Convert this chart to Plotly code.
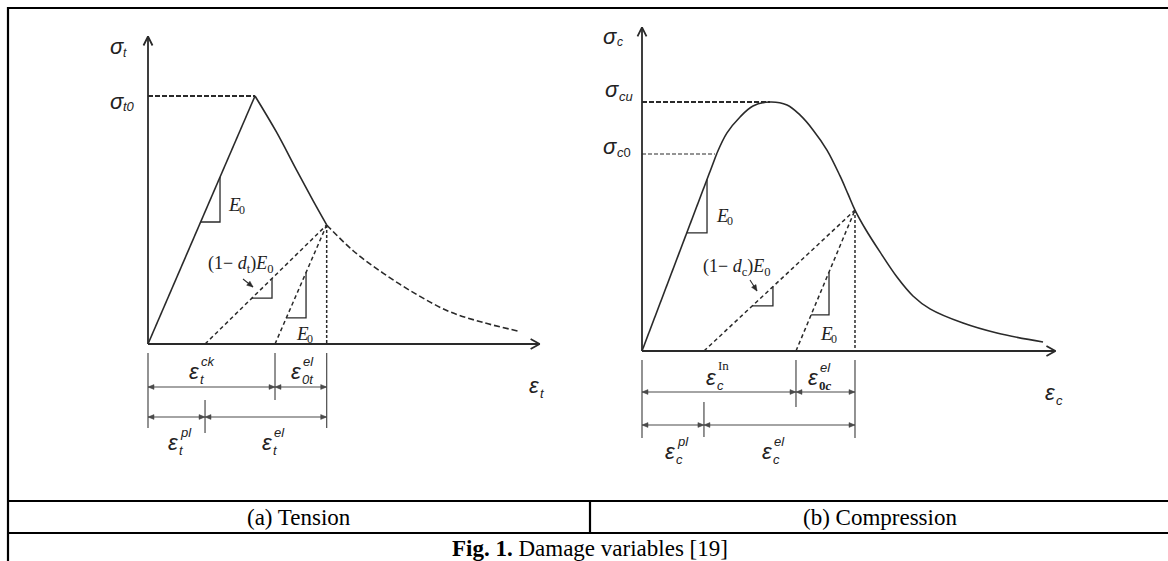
import plotly.graph_objects as go

W, H = 1168, 561

# ---------------- data (normalised schematic units) ----------------
# (a) Tension: strain / eps_t0, stress / sigma_t0
t_load_strain = [0.0, 1.0]
t_load_stress = [0.0, 1.0]
t_soft_strain = [1.0, 1.2, 1.39, 1.54, 1.67]
t_soft_stress = [1.0, 0.855, 0.70, 0.58, 0.48]
t_tail_strain = [1.67, 1.92, 2.20, 2.51, 2.82, 3.13, 3.46]
t_tail_stress = [0.48, 0.375, 0.285, 0.20, 0.13, 0.087, 0.052]
t_unload_zero = [0.533, 1.187]          # intercepts of (1-dt)E0 and E0 unloading
t_axis_end = [3.66, 1.24]               # x-axis length, y-axis length

# (b) Compression: strain / eps_cu, stress / sigma_cu
c_load_strain = [0.0, 0.586]
c_load_stress = [0.0, 0.795]
c_curve_strain = [0.586, 0.664, 0.766, 0.867, 1.0, 1.133, 1.234, 1.336, 1.445, 1.547,
                  1.609, 1.664, 1.75, 1.859, 1.992, 2.117, 2.25, 2.508, 2.773, 3.133]
c_curve_stress = [0.795, 0.876, 0.940, 0.984, 1.0, 0.988, 0.948, 0.888, 0.807, 0.703,
                  0.631, 0.566, 0.486, 0.398, 0.297, 0.221, 0.169, 0.112, 0.072, 0.036]
c_sigma_c0 = [0.57, 0.791]              # strain, stress at sigma_c0
c_point = [1.664, 0.566]                # unloading point
c_unload_zero = [0.484, 1.203]
c_axis_end = [3.23, 1.30]

t_point = [t_soft_strain[-1], t_soft_stress[-1]]

# ---------------- layout helpers ----------------
panels = {
    "t": dict(ox=148, oy=344, sx=107, sy=248, xa="x", ya="y"),
    "c": dict(ox=642, oy=351, sx=128, sy=249, xa="x2", ya="y2"),
}
LINE = "#2a2a2a"
DIM = "#4a4a4a"
SANS = "Liberation Sans"
SERIF = "Liberation Serif"

fig = go.Figure()
annotations = []
shapes = []


def dx(p, pix):
    return pix / panels[p]["sx"]


def dy(p, pix):
    return pix / panels[p]["sy"]


def line(p, xs, ys, width=1.6, dash="solid", color=LINE, shape="linear"):
    fig.add_trace(go.Scatter(
        x=xs, y=ys, mode="lines", xaxis=panels[p]["xa"], yaxis=panels[p]["ya"],
        line=dict(color=color, width=width, dash=dash, shape=shape, smoothing=1.0),
        hoverinfo="skip", showlegend=False))


def head(p, tipx, tipy, ux, uy, length=6, half=2.4, color=DIM):
    """filled arrowhead; (ux, uy) = pixel-space direction of travel (unit)."""
    bx, by = -ux * length, -uy * length
    nx, ny = -uy * half, ux * half
    xs = [tipx, tipx + dx(p, bx + nx), tipx + dx(p, bx - nx), tipx]
    ys = [tipy, tipy + dy(p, by + ny), tipy + dy(p, by - ny), tipy]
    fig.add_trace(go.Scatter(
        x=xs, y=ys, mode="lines", fill="toself", fillcolor=color,
        xaxis=panels[p]["xa"], yaxis=panels[p]["ya"],
        line=dict(color=color, width=0.5), hoverinfo="skip", showlegend=False))


def axes_arrows(p, xend, yend):
    line(p, [0, 0], [0, yend], width=1.8)
    line(p, [0, xend], [0, 0], width=1.8)
    line(p, [-dx(p, 4.5), 0, dx(p, 4.5)], [yend - dy(p, 9), yend, yend - dy(p, 9)], width=1.8)
    line(p, [xend - dx(p, 9), xend, xend - dx(p, 9)], [dy(p, 5), 0, -dy(p, 5)], width=1.8)


def slope_triangle(p, x0, k, xv, yb):
    top = k * (xv - x0)
    left = x0 + yb / k
    line(p, [xv, xv, left], [top, yb, yb], width=1.3)


def dim_arrow(p, x0, x1, ypix):
    y = -dy(p, ypix)
    line(p, [x0, x1], [y, y], width=1.1, color=DIM)
    head(p, x1, y, 1, 0)
    head(p, x0, y, -1, 0)


def dim_tick(p, x, y0pix, y1pix):
    line(p, [x, x], [-dy(p, y0pix), -dy(p, y1pix)], width=1.2, color=DIM)


def txt(px, py, text, size, family=SANS, xanchor="center", color="#222"):
    annotations.append(dict(
        x=px / W, y=1 - py / H, xref="paper", yref="paper", text=text, showarrow=False,
        xanchor=xanchor, yanchor="middle", font=dict(size=size, family=family, color=color)))


def sym(px, py, base, sub=None, sup=None, size=22, subsize=13, family=SANS,
        subdx=4, subdy=8, supdx=5, supdy=-10, subfam=None, supfam=None):
    txt(px, py, base, size, family)
    if sub:
        txt(px + subdx, py + subdy, sub, subsize, subfam or family, xanchor="left")
    if sup:
        txt(px + supdx, py + supdy, sup, subsize, supfam or family, xanchor="left")


def pointer(p, x0pix, y0pix, x1pix, y1pix):
    a = panels[p]
    tx = lambda v: (v - a["ox"]) / a["sx"]
    ty = lambda v: (a["oy"] - v) / a["sy"]
    line(p, [tx(x0pix), tx(x1pix)], [ty(y0pix), ty(y1pix)], width=1.1)
    ux, uy = x1pix - x0pix, -(y1pix - y0pix)
    n = (ux ** 2 + uy ** 2) ** 0.5
    head(p, tx(x1pix), ty(y1pix), ux / n, uy / n, length=6, half=2.6, color=LINE)


# ---------------- (a) Tension ----------------
axes_arrows("t", *t_axis_end)
line("t", [0, t_load_strain[1]], [t_load_stress[1], t_load_stress[1]], width=1.8, dash="5px,2px")
line("t", t_load_strain, t_load_stress)
line("t", t_soft_strain, t_soft_stress, shape="spline")
line("t", t_tail_strain, t_tail_stress, dash="6px,3px", shape="spline")
for z in t_unload_zero:
    line("t", [z, t_point[0]], [0, t_point[1]], width=1.5, dash="4px,3px")
line("t", [t_point[0], t_point[0]], [t_point[1], 0], width=1.5, dash="3px,2px")
slope_triangle("t", 0.0, 1.0, 0.673, 0.492)
k1 = t_point[1] / (t_point[0] - t_unload_zero[0])
k2 = t_point[1] / (t_point[0] - t_unload_zero[1])
slope_triangle("t", t_unload_zero[0], k1, 1.159, 0.185)
slope_triangle("t", t_unload_zero[1], k2, 1.477, 0.105)
pointer("t", 243, 279, 253, 287)

dim_tick("t", 0, 9, 84)
dim_tick("t", t_unload_zero[1], 9, 56)
dim_tick("t", t_point[0], 9, 84)
dim_tick("t", t_unload_zero[0], 56, 89)
dim_arrow("t", 0, t_unload_zero[1], 43)
dim_arrow("t", t_unload_zero[1], t_point[0], 43)
dim_arrow("t", 0, t_unload_zero[0], 73)
dim_arrow("t", t_unload_zero[0], t_point[0], 73)

sym(117, 47, "<i>σ</i>", sub="<i>t</i>", subdx=4, subdy=6, subsize=12)
sym(117, 101, "<i>σ</i>", sub="<i>t0</i>", subdx=4, subdy=5)
sym(234, 204, "<i>E</i>", sub="0", size=19, subsize=12, family=SERIF, subdx=3, subdy=6)
sym(302, 333, "<i>E</i>", sub="0", size=19, subsize=12, family=SERIF, subdx=3, subdy=6)
txt(240, 264, "(1− <i>d</i><sub>t</sub>)<i>E</i><sub>0</sub>", 18, SERIF)
sym(194, 371, "<i>ε</i>", sub="<i>t</i>", sup="<i>ck</i>")
sym(296, 371, "<i>ε</i>", sub="<i>0t</i>", sup="<i>el</i>")
sym(173, 442, "<i>ε</i>", sub="<i>t</i>", sup="<i>pl</i>")
sym(267, 442, "<i>ε</i>", sub="<i>t</i>", sup="<i>el</i>")
sym(534, 385, "<i>ε</i>", sub="<i>t</i>")

# ---------------- (b) Compression ----------------
axes_arrows("c", *c_axis_end)
line("c", [0, 1.0], [1.0, 1.0], width=1.8, dash="5px,2px")
line("c", [0, c_sigma_c0[0]], [c_sigma_c0[1], c_sigma_c0[1]], width=1.1, dash="4px,2px")
line("c", c_load_strain, c_load_stress)
line("c", c_curve_strain, c_curve_stress, shape="spline")
for z in c_unload_zero:
    line("c", [z, c_point[0]], [0, c_point[1]], width=1.5, dash="4px,3px")
line("c", [c_point[0], c_point[0]], [c_point[1], 0], width=1.5, dash="3px,2px")
kc0 = c_load_stress[1] / c_load_strain[1]
kc1 = c_point[1] / (c_point[0] - c_unload_zero[0])
kc2 = c_point[1] / (c_point[0] - c_unload_zero[1])
slope_triangle("c", 0.0, kc0, 0.508, 0.474)
slope_triangle("c", c_unload_zero[0], kc1, 1.023, 0.181)
slope_triangle("c", c_unload_zero[1], kc2, 1.461, 0.145)
pointer("c", 750, 280, 757, 291)

dim_tick("c", 0, 9, 87)
dim_tick("c", c_unload_zero[1], 9, 56)
dim_tick("c", c_point[0], 9, 87)
dim_tick("c", c_unload_zero[0], 51, 86)
dim_arrow("c", 0, c_unload_zero[1], 41)
dim_arrow("c", c_unload_zero[1], c_point[0], 41)
dim_arrow("c", 0, c_unload_zero[0], 74)
dim_arrow("c", c_unload_zero[0], c_point[0], 74)

sym(610, 36, "<i>σ</i>", sub="<i>c</i>", subdx=5, subdy=6, subsize=12)
sym(612, 90, "<i>σ</i>", sub="<i>cu</i>", subdx=5, subdy=6)
sym(610, 147, "<i>σ</i>", sub="<i>c</i>0", subdx=5, subdy=5)
sym(722, 215, "<i>E</i>", sub="0", size=19, subsize=12, family=SERIF, subdx=3, subdy=6)
sym(826, 333, "<i>E</i>", sub="0", size=19, subsize=12, family=SERIF, subdx=3, subdy=6)
txt(737, 267, "(1− <i>d</i><sub>c</sub>)<i>E</i><sub>0</sub>", 18, SERIF)
sym(711, 377, "<i>ε</i>", sub="<i>c</i>", sup="In", supfam=SERIF, supdy=-12)
sym(813, 377, "<i>ε</i>", sub="<b>0<i>c</i></b>", sup="<i>el</i>", subfam=SERIF)
sym(670, 451, "<i>ε</i>", sub="<i>c</i>", sup="<i>pl</i>")
sym(767, 451, "<i>ε</i>", sub="<i>c</i>", sup="<i>el</i>")
sym(1050, 392, "<i>ε</i>", sub="<i>c</i>")

# ---------------- table frame & captions ----------------
def hline(y, x0=8, x1=W):
    shapes.append(dict(type="line", xref="paper", yref="paper", x0=x0 / W, x1=x1 / W,
                       y0=1 - y / H, y1=1 - y / H, line=dict(color="black", width=2.2)))


def vline(x, y0, y1):
    shapes.append(dict(type="line", xref="paper", yref="paper", x0=x / W, x1=x / W,
                       y0=1 - y0 / H, y1=1 - y1 / H, line=dict(color="black", width=2.2)))


hline(8, 7)
hline(501)
hline(533)
vline(8, 7, H)
vline(590, 501, 533)

txt(299, 517, "(a) Tension", 23, SERIF, color="black")
txt(880, 517, "(b) Compression", 23, SERIF, color="black")
txt(590, 548, "<b>Fig. 1.</b> Damage variables [19]", 23, SERIF, color="black")

# ---------------- axes ----------------
def rng(p):
    a = panels[p]
    return ([-a["ox"] / a["sx"], (W - a["ox"]) / a["sx"]],
            [-(H - a["oy"]) / a["sy"], a["oy"] / a["sy"]])


tx_r, ty_r = rng("t")
cx_r, cy_r = rng("c")
ax_common = dict(visible=False, showgrid=False, zeroline=False, fixedrange=True)

fig.update_layout(
    width=W, height=H, margin=dict(l=0, r=0, t=0, b=0),
    paper_bgcolor="white", plot_bgcolor="white", showlegend=False,
    xaxis=dict(domain=[0, 1], range=tx_r, anchor="y", **ax_common),
    yaxis=dict(domain=[0, 1], range=ty_r, anchor="x", **ax_common),
    xaxis2=dict(range=cx_r, overlaying="x", anchor="y2", **ax_common),
    yaxis2=dict(range=cy_r, overlaying="y", anchor="x2", **ax_common),
    annotations=annotations, shapes=shapes,
)

fig.write_html("out.html", config={"displayModeBar": False})
